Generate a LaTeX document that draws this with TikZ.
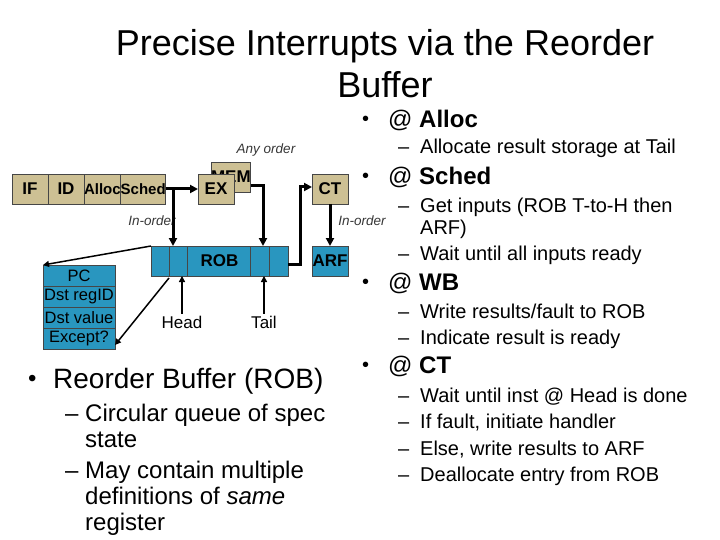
\documentclass[tikz,border=0pt]{standalone}
\usepackage{fontspec}
\setmainfont{Liberation Sans}
\usetikzlibrary{positioning,arrows.meta}
\definecolor{tanbox}{RGB}{205,192,148}
\definecolor{robblue}{RGB}{41,150,191}
\definecolor{edgegray}{RGB}{70,70,70}
\definecolor{notegray}{RGB}{55,55,55}

\begin{document}
\begin{tikzpicture}[x=1pt,y=-1pt,
  stagebox/.style={draw=edgegray,line width=0.8pt,fill=tanbox,minimum width=36pt,minimum height=30pt,
    inner sep=0pt,outer sep=0pt,font=\fontsize{17}{17}\selectfont\bfseries},
  smallstage/.style={stagebox,font=\fontsize{15}{15}\selectfont\bfseries},
  robbox/.style={draw=edgegray,line width=0.8pt,fill=robblue,minimum height=30pt,
    inner sep=0pt,outer sep=0pt,font=\fontsize{17}{17}\selectfont\bfseries},
  fieldbox/.style={draw=edgegray,line width=0.8pt,fill=robblue,minimum width=72pt,minimum height=21pt,
    inner sep=0pt,outer sep=0pt,font=\fontsize{16.5}{16.5}\selectfont},
  flow/.style={line width=3pt,-{Triangle[length=8pt,width=8pt]}},
  ptr/.style={line width=1.5pt,-{Triangle[length=6pt,width=6pt]}},
  note/.style={font=\fontsize{13.5}{13.5}\selectfont\itshape,text=notegray},
  ptrlabel/.style={font=\fontsize{17}{17}\selectfont,inner sep=2pt},
  titletext/.style={font=\fontsize{36}{36}\selectfont,anchor=base,inner sep=0pt},
  bigdot/.style={font=\fontsize{24}{24}\selectfont,anchor=base west,inner sep=0pt},
  bigitem/.style={font=\fontsize{28}{28}\selectfont,anchor=base west,inner sep=0pt},
  bigsub/.style={font=\fontsize{24}{24}\selectfont,anchor=base west,inner sep=0pt},
  sidedot/.style={font=\fontsize{20}{20}\selectfont,anchor=base west,inner sep=0pt},
  sideitem/.style={font=\fontsize{24}{24}\selectfont,anchor=base west,inner sep=0pt},
  sidesub/.style={font=\fontsize{20}{20}\selectfont,anchor=base west,inner sep=0pt}]
\useasboundingbox[fill=white] (0,0) rectangle (720,540);
% Title
\node[titletext] (title1) at (385,56) {Precise Interrupts via the Reorder};
\node[titletext] (title2) at (385,98) {Buffer};
% Pipeline stages
\node[stagebox,anchor=north west] (if) at (12,174) {IF};
\node[stagebox,right=0pt of if] (id) {ID};
\node[smallstage,right=0pt of id] (alloc) {Alloc};
\node[smallstage,right=0pt of alloc] (sched) {Sched};
\node[stagebox,anchor=north west] (mem) at (211,162) {MEM};
\node[stagebox,anchor=north west] (ex) at (198,174) {EX};
\node[stagebox,anchor=north west] (ct) at (312,174) {CT};
% ROB and ARF
\node[robbox,minimum width=137pt,anchor=north west] (rob) at (151,246) {ROB};
\foreach \cx in {169,187,250,269}
  \draw[edgegray,line width=0.8pt] (\cx,246) -- (\cx,276);
\node[robbox,minimum width=36pt,anchor=north west] (arf) at (312,246) {ARF};
% One ROB entry
\node[fieldbox,anchor=north west] (pcrow) at (43,265) {PC};
\node[fieldbox,below=0pt of pcrow] (regrow) {Dst regID};
\node[fieldbox,below=0pt of regrow] (valrow) {Dst value};
\node[fieldbox,below=0pt of valrow] (excrow) {Except?};
% Order notes
\node[note] (anyorder) at (266,150) {Any order};
\node[note] (inorderL) at (152,221) {In-order};
\node[note] (inorderR) at (362,221) {In-order};
% Datapath
\coordinate (split) at (173,189);
\coordinate (wbin) at (263,246);
\draw[flow] (sched.east) -- (ex.west);
\draw[flow] (split) -- (split |- rob.north);
\draw[flow] ([yshift=-9pt]mem.east) -| (wbin);
\draw[flow] ([yshift=-3pt]rob.east) -- ++(12,0) |- ([yshift=2pt]ct.west);
\draw[flow] (ct) -- (arf);
% Head / Tail pointers
\node[ptrlabel] (headlbl) at (182,322) {Head};
\node[ptrlabel] (taillbl) at (264,322) {Tail};
\draw[ptr] (headlbl.north) -- (headlbl.north |- rob.south);
\draw[ptr] (taillbl.north) -- (taillbl.north |- rob.south);
% Entry fan-out
\coordinate (cellA) at (169,278);
\draw[ptr] (rob.north west) -- (pcrow.north west);
\draw[ptr] (cellA) -- ([yshift=4pt]excrow.south east);
% Left bullets
\node[bigdot] (robdot) at (28,386) {•};
\node[bigitem] (robhead) at (53,388) {Reorder Buffer (ROB)};
\node[bigsub] at (65,421) {--};
\node[bigsub] at (85,421) {Circular queue of spec};
\node[bigsub] at (85,447) {state};
\node[bigsub] at (65,478) {--};
\node[bigsub] at (85,478) {May contain multiple};
\node[bigsub] at (85,504) {definitions of \textit{same}};
\node[bigsub] at (85,530) {register};
% Right bullets
\node[sidedot] at (362,125.5) {•};
\node[sideitem] at (388,127.5) {@ \textbf{Alloc}};
\node[sidesub] at (398,154) {--};
\node[sidesub] at (420,154) {Allocate result storage at Tail};
\node[sidedot] at (362,183) {•};
\node[sideitem] at (388,185) {@ \textbf{Sched}};
\node[sidesub] at (398,212) {--};
\node[sidesub] at (420,212) {Get inputs (ROB T-to-H then};
\node[sidesub] at (420,234) {ARF)};
\node[sidesub] at (398,260) {--};
\node[sidesub] at (420,260) {Wait until all inputs ready};
\node[sidedot] at (362,288) {•};
\node[sideitem] at (388,290) {@ \textbf{WB}};
\node[sidesub] at (398,318) {--};
\node[sidesub] at (420,318) {Write results/fault to ROB};
\node[sidesub] at (398,344.5) {--};
\node[sidesub] at (420,344.5) {Indicate result is ready};
\node[sidedot] at (362,371) {•};
\node[sideitem] at (388,373) {@ \textbf{CT}};
\node[sidesub] at (398,402) {--};
\node[sidesub] at (420,402) {Wait until inst @ Head is done};
\node[sidesub] at (398,428) {--};
\node[sidesub] at (420,428) {If fault, initiate handler};
\node[sidesub] at (398,455) {--};
\node[sidesub] at (420,455) {Else, write results to ARF};
\node[sidesub] at (398,481.5) {--};
\node[sidesub] at (420,481.5) {Deallocate entry from ROB};
\end{tikzpicture}
\end{document}
